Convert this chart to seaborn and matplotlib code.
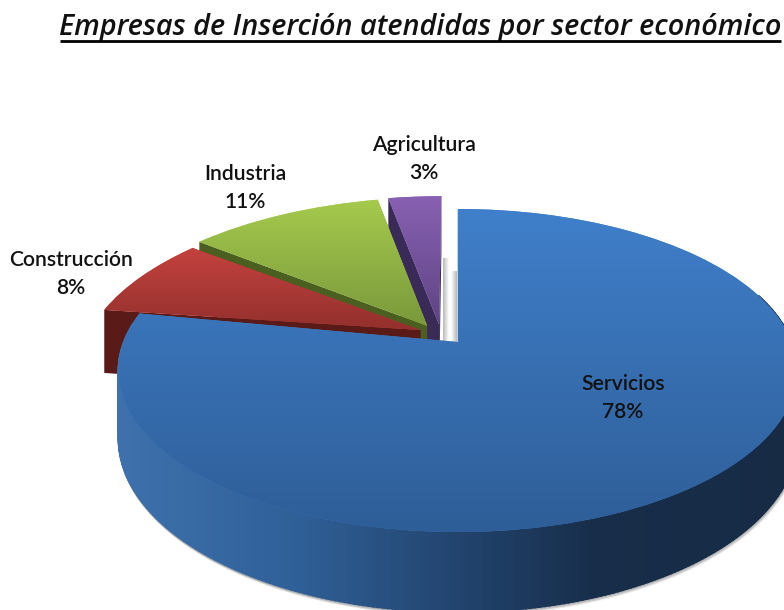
import numpy as np
import matplotlib
matplotlib.use("Agg")
import matplotlib.pyplot as plt
from matplotlib.transforms import Transform, Affine2D
from matplotlib.colors import to_rgb
import seaborn as sns

# ---- data ----
sectors = ["Servicios", "Construcción", "Industria", "Agricultura"]
shares = [78, 8, 11, 3]
title_text = "Empresas de Inserción atendidas por sector económico"

# ---- styles ----
face_top = ["#4080cc", "#cc4542", "#a9cd4e", "#8b63b6"]
face_bottom = ["#2e5d96", "#8e2e2b", "#76963a", "#5c4280"]
wall_colors = ["#2b5a90", "#5a1a18", "#4a5f20", "#3a2a57"]
label_xy = [(623, 398), (71, 274), (245, 188), (424, 159)]
screen_tilt = [0.0, 0.024, 0.012, 0.0]
screen_shift = [0.0, -1.0, -3.0, 0.0]
screen_xscale = [1.0, 1.012, 1.012, 1.012]

sns.set_theme(style="white")
plt.rcParams["font.family"] = ["Lato", "DejaVu Sans"]

W, H = 784, 610
EXPLODE = 0.065
A, B, K, D = 334.0, 156.5, 0.1765, 66.0
CX, CY = 458.0, 342.0


def project(x, y, z=0.0):
    w = 1 + K * np.asarray(y)
    return CX + A * np.asarray(x) / w, CY - B * np.asarray(y) / w + z * D / w


class Perspective(Transform):
    input_dims = output_dims = 2
    is_separable = False
    has_inverse = False

    def transform_non_affine(self, values):
        v = np.asarray(values, dtype=float)
        return np.column_stack(project(v[:, 0], v[:, 1]))


fig = plt.figure(figsize=(W / 100, H / 100), dpi=100)
ax = fig.add_axes([0, 0, 1, 1])

total = sum(shares)
explode = [EXPLODE] * len(shares)
pie_center = (-0.042, 0.05)
wedges, _ = ax.pie(shares, startangle=90, counterclock=False, explode=explode,
                   center=pie_center, radius=1.0, colors=sns.color_palette(face_top))
ax.set_aspect("auto")
ax.set_xlim(0, W)
ax.set_ylim(H, 0)
ax.axis("off")

order = {0: 6, 1: 4, 2: 3, 3: 2}


def side_color(sx):
    stops_x = [110, 300, 470, 600, 790]
    stops = np.array([to_rgb(c) for c in ["#3f72ae", "#2f5f97", "#21426b", "#172d49", "#172b45"]])
    return tuple(np.interp(sx, stops_x, stops[:, i]) for i in range(3))


for i, wedge in enumerate(wedges):
    z = order[i]
    cxw, cyw = wedge.center
    t1, t2 = np.radians(wedge.theta1), np.radians(wedge.theta2)
    apex_x = project(cxw, cyw)[0]
    sc = screen_xscale[i]
    x_off = (0.0 if i == 0 else CX - 3.0 - CX * sc) + screen_shift[i]
    adj = Affine2D(np.array([[sc, 0.0, x_off],
                             [-screen_tilt[i], 1.0, screen_tilt[i] * apex_x],
                             [0.0, 0.0, 1.0]]))
    wedge.set_transform(Perspective() + adj + ax.transData)
    wedge.set_zorder(z + 0.5)
    wedge.set_linewidth(0)
    # gradient surface, clipped to the wedge
    ang = np.linspace(t1, t2, 60)
    xs, ys = project(cxw + np.cos(ang), cyw + np.sin(ang))
    ymin, ymax = min(ys.min(), project(cxw, cyw)[1]), max(ys.max(), project(cxw, cyw)[1])
    c0, c1 = np.array(to_rgb(face_top[i])), np.array(to_rgb(face_bottom[i]))
    grad = np.linspace(0, 1, 256)[:, None, None] * (c1 - c0) + c0
    im = ax.imshow(grad, extent=(0, W, ymax + 8, ymin - 8), aspect="auto", zorder=z + 0.6,
                   interpolation="bilinear")
    im.set_clip_path(wedge)
    # cut faces
    for t in (t1, t2):
        px = np.array([cxw, cxw + np.cos(t), cxw + np.cos(t), cxw])
        py = np.array([cyw, cyw + np.sin(t), cyw + np.sin(t), cyw])
        zz = np.array([0, 0, 1, 1])
        sx, sy = project(px, py, zz)
        sx, sy = adj.transform(np.column_stack([sx, sy])).T
        if i > 0:
            ax.fill(sx, sy, color=wall_colors[i], lw=0, zorder=z)

# outer wall of the large slice, shaded along the rim
blue = wedges[0]
cxw, cyw = blue.center
th = np.radians(np.linspace(blue.theta1, blue.theta2, 400))
rx, ry = cxw + np.cos(th), cyw + np.sin(th)
front = ry < 0.32
for j in range(len(th) - 1):
    if not (front[j] and front[j + 1]):
        continue
    xq = np.array([rx[j], rx[j + 1], rx[j + 1], rx[j]])
    yq = np.array([ry[j], ry[j + 1], ry[j + 1], ry[j]])
    sx, sy = project(xq, yq, np.array([0, 0, 1, 1]))
    ax.fill(sx, sy, color=side_color(sx.mean()), lw=1.2, zorder=5.5)
# soft shadow under the rim
sx, sy = project(rx[front], ry[front], 1.0)
for off, alpha in [(3, 0.12), (2, 0.2), (1, 0.3)]:
    ax.plot(sx + off * 0.5, sy + off, color="#555555", alpha=alpha, lw=1.5, zorder=5.2)

# pale gap shadows beside the large slice
shade = np.linspace(0.72, 1.0, 64)[None, :, None] * np.ones((1, 64, 3))
ax.imshow(shade, extent=(443, 449, 342, 258), aspect="auto", zorder=1)
ax.imshow(shade[:, ::-1], extent=(451, 457, 342, 271), aspect="auto", zorder=1)
ax.set_xlim(0, W)
ax.set_ylim(H, 0)

# labels
for name, share, (lx, ly) in zip(sectors, shares, label_xy):
    ax.text(lx, ly, f"{name}\n{round(100 * share / total)}%", ha="center", va="center",
            fontsize=15.2, fontweight="semibold", color="#111111", linespacing=1.55, zorder=10)

# title with underline
ax.text(420, 27.5, title_text, ha="center", va="center", fontsize=20.8, family="Open Sans",
        style="italic", fontweight="semibold", color="#111111", zorder=10)
ax.plot([60, 781], [40.5, 40.5], color="black", lw=2, zorder=10, solid_capstyle="butt")

fig.savefig("out.png", dpi=100, facecolor="white")
